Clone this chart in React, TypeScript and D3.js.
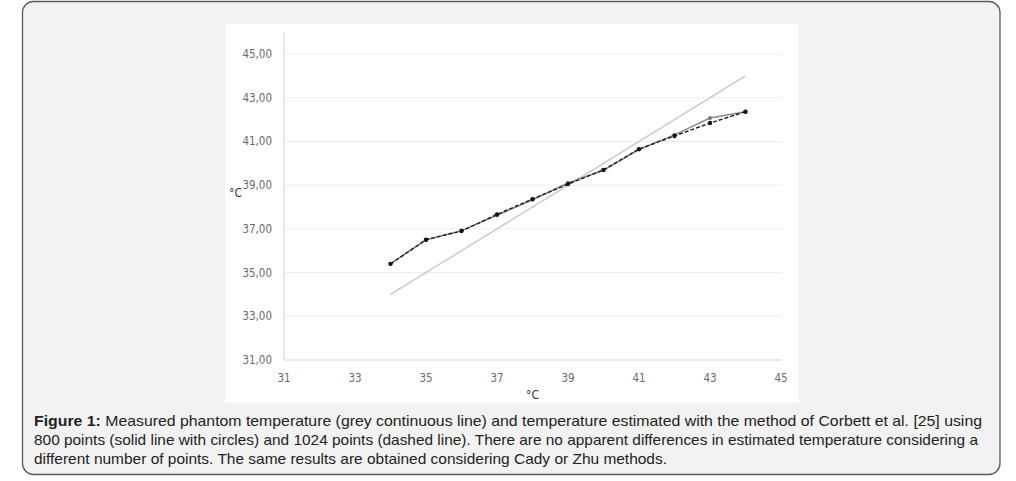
import React from "react";
import * as d3 from "d3";

// temperatures in °C
const measuredX = [34, 44];
const measuredY = [34, 44];

const setX = [34, 35, 36, 37, 38, 39, 40, 41, 42, 43, 44];
const points800 = [35.4, 36.5, 36.92, 37.62, 38.33, 39.1, 39.68, 40.63, 41.3, 42.07, 42.36];
const points1024 = [35.4, 36.5, 36.9, 37.66, 38.36, 39.05, 39.7, 40.65, 41.25, 41.84, 42.36];

const xTicks = [31, 33, 35, 37, 39, 41, 43, 45];
const yTicks = [31, 33, 35, 37, 39, 41, 43, 45];

const captionLines = [
  "Measured phantom temperature (grey continuous line) and temperature estimated with the method of Corbett et al. [25] using",
  "800 points (solid line with circles) and 1024 points (dashed line). There are no apparent differences in estimated temperature considering a",
  "different number of points. The same results are obtained considering Cady or Zhu methods.",
];
const captionWidths = [948, 944, 633];

const W = 1016;
const H = 481;

export default function App() {
  const x = d3.scaleLinear().domain([31, 45]).range([284, 781]);
  const y = d3.scaleLinear().domain([31, 45]).range([360, 54]);

  const line = d3
    .line<[number, number]>()
    .x(d => x(d[0]))
    .y(d => y(d[1]));

  const measured = measuredX.map((v, i) => [v, measuredY[i]] as [number, number]);
  const s800 = setX.map((v, i) => [v, points800[i]] as [number, number]);
  const s1024 = setX.map((v, i) => [v, points1024[i]] as [number, number]);

  const tickFont = "'Liberation Sans Narrow', 'DejaVu Sans Condensed', sans-serif";

  return (
    <div style={{ position: "fixed", left: 0, top: 0 }}>
      <svg width={W} height={H} viewBox={`0 0 ${W} ${H}`} style={{ display: "block" }}>
        <rect x={0} y={0} width={W} height={H} fill="#ffffff" />
        <rect x={22.5} y={1.5} width={977.5} height={473} rx={11} fill="#f2f2f2" stroke="#5a5a5a" strokeWidth={1.3} />
        <rect x={225} y={24} width={574} height={379} fill="#ffffff" />

        {/* gridlines */}
        {yTicks.slice(1).map(t => (
          <line key={t} x1={x(31)} x2={781.5} y1={y(t)} y2={y(t)} stroke="#ececec" strokeWidth={1} />
        ))}
        {/* axes */}
        <line x1={x(31)} x2={781.5} y1={y(31)} y2={y(31)} stroke="#e2e2e2" strokeWidth={1.5} />
        <line x1={x(31)} x2={x(31)} y1={32} y2={y(31)} stroke="#e8e8e8" strokeWidth={2} />

        {/* tick labels */}
        {yTicks.map(t => (
          <text key={t} x={272} y={y(t) + 4} textAnchor="end" fontFamily={tickFont} fontSize={11.5} fill="#6a6a6a">
            {t.toFixed(2).replace(".", ",")}
          </text>
        ))}
        {xTicks.map(t => (
          <text key={t} x={x(t)} y={382} textAnchor="middle" fontFamily={tickFont} fontSize={11.5} fill="#6a6a6a">
            {t}
          </text>
        ))}
        <text x={229} y={197} fontFamily={tickFont} fontSize={12} fill="#333">°C</text>
        <text x={526} y={399} fontFamily={tickFont} fontSize={12} fill="#333">°C</text>

        {/* measured */}
        <path d={line(measured) ?? ""} fill="none" stroke="#c9c9c9" strokeWidth={1.5} />

        {/* 800 points */}
        <path d={line(s800) ?? ""} fill="none" stroke="#8a8a8a" strokeWidth={1.5} />
        {s800.map((d, i) => (
          <circle key={i} cx={x(d[0])} cy={y(d[1])} r={2} fill="#7a7a7a" />
        ))}

        {/* 1024 points */}
        <path d={line(s1024) ?? ""} fill="none" stroke="#1e1e1e" strokeWidth={1.4} strokeDasharray="4,2" />
        {s1024.map((d, i) => (
          <circle key={i} cx={x(d[0])} cy={y(d[1])} r={2.2} fill="#111" />
        ))}

        {/* caption */}
        <g fontFamily="'Liberation Sans', Arial, sans-serif" fontSize={15} fill="#222">
          <text x={34} y={426} textLength={captionWidths[0]} lengthAdjust="spacingAndGlyphs">
            <tspan fontWeight="bold">Figure 1:</tspan> {captionLines[0]}
          </text>
          <text x={34} y={445} textLength={captionWidths[1]} lengthAdjust="spacingAndGlyphs">{captionLines[1]}</text>
          <text x={34} y={464} textLength={captionWidths[2]} lengthAdjust="spacingAndGlyphs">{captionLines[2]}</text>
        </g>
      </svg>
    </div>
  );
}
